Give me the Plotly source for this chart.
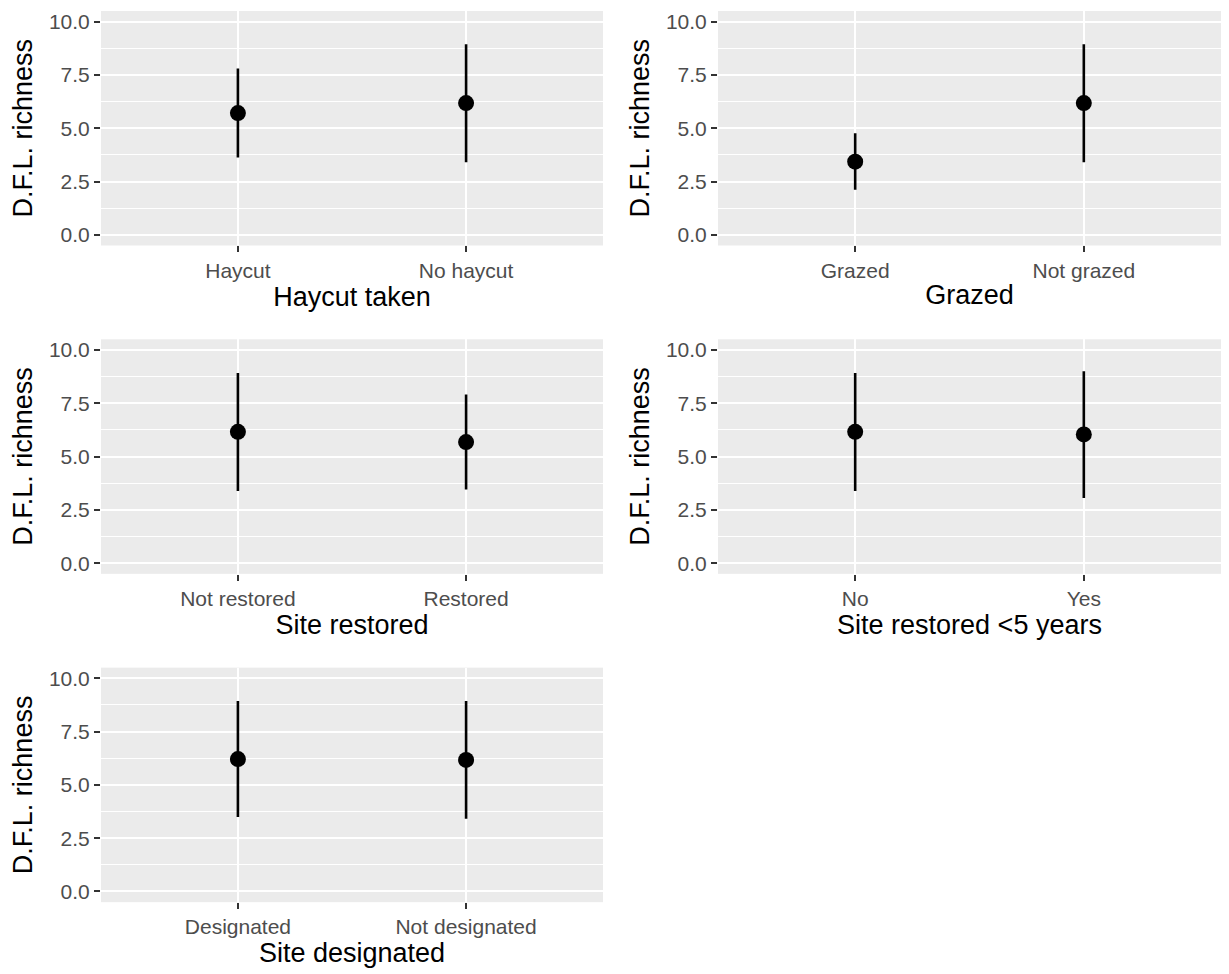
import plotly.graph_objects as go

# ---- data ----
axis_titles = ["Haycut taken", "Grazed", "Site restored", "Site restored <5 years", "Site designated"]

haycut_cats = ["Haycut", "No haycut"]
haycut_mean = [5.71, 6.18]
haycut_low = [3.63, 3.40]
haycut_high = [7.80, 8.94]

grazed_cats = ["Grazed", "Not grazed"]
grazed_mean = [3.43, 6.18]
grazed_low = [2.11, 3.40]
grazed_high = [4.76, 8.94]

restored_cats = ["Not restored", "Restored"]
restored_mean = [6.16, 5.68]
restored_low = [3.39, 3.45]
restored_high = [8.92, 7.91]

recent_cats = ["No", "Yes"]
recent_mean = [6.16, 6.04]
recent_low = [3.39, 3.06]
recent_high = [8.92, 9.00]

designated_cats = ["Designated", "Not designated"]
designated_mean = [6.21, 6.17]
designated_low = [3.49, 3.41]
designated_high = [8.94, 8.94]

y_ticks = [0, 2.5, 5, 7.5, 10]
y_minor = [1.25, 3.75, 6.25, 8.75]

panels = [
    (haycut_cats, haycut_mean, haycut_low, haycut_high),
    (grazed_cats, grazed_mean, grazed_low, grazed_high),
    (restored_cats, restored_mean, restored_low, restored_high),
    (recent_cats, recent_mean, recent_low, recent_high),
    (designated_cats, designated_mean, designated_low, designated_high),
]

# ---- layout geometry (pixels) ----
W, H = 1229, 974
cols_px = [(101, 603), (718, 1221)]
rows_px = [(10, 245), (339, 574), (668, 903)]

FONT = "Liberation Sans, Arial, sans-serif"
fig = go.Figure()
layout = dict(
    width=W, height=H,
    margin=dict(l=0, r=0, t=0, b=0),
    paper_bgcolor="white",
    plot_bgcolor="#EBEBEB",
    showlegend=False,
    font=dict(family=FONT),
)

for i, (cats, mean, low, high) in enumerate(panels):
    r, c = divmod(i, 2)
    n = i + 1
    xa = "x" if n == 1 else f"x{n}"
    ya = "y" if n == 1 else f"y{n}"
    plus = [h - m for h, m in zip(high, mean)]
    minus = [m - l for m, l in zip(mean, low)]
    fig.add_trace(go.Scatter(
        x=cats, y=mean, mode="markers",
        marker=dict(color="black", size=16),
        error_y=dict(type="data", array=plus, arrayminus=minus,
                     color="black", thickness=2.6, width=0),
        xaxis=xa, yaxis=ya,
    ))
    x0, x1 = cols_px[c]
    y0, y1 = rows_px[r]
    layout["xaxis" if n == 1 else f"xaxis{n}"] = dict(
        domain=[x0 / W, x1 / W],
        anchor=ya,
        type="category",
        categoryorder="array", categoryarray=cats,
        range=[-0.6, 1.6],
        showgrid=True, gridcolor="white", gridwidth=2,
        zeroline=False, showline=False,
        ticks="outside", ticklen=6, tickwidth=2, tickcolor="#333333",
        tickfont=dict(size=21, color="#4D4D4D", family=FONT),
        title=dict(text=axis_titles[i], font=dict(size=27, color="black", family=FONT), standoff=4),
    )
    layout["yaxis" if n == 1 else f"yaxis{n}"] = dict(
        domain=[1 - y1 / H, 1 - y0 / H],
        anchor=xa,
        range=[-0.5, 10.5],
        tickvals=y_ticks, ticktext=[f"{v:.1f}" for v in y_ticks],
        showgrid=True, gridcolor="white", gridwidth=2,
        minor=dict(tickvals=y_minor, showgrid=True, gridcolor="white", gridwidth=1.1, ticks=""),
        zeroline=False, showline=False,
        ticks="outside", ticklen=6, tickwidth=2, tickcolor="#333333",
        tickfont=dict(size=21, color="#4D4D4D", family=FONT),
        title=dict(text="D.F.L. richness", font=dict(size=27, color="black", family=FONT), standoff=8),
    )

fig.update_layout(**layout)
fig.write_html("out.html")
